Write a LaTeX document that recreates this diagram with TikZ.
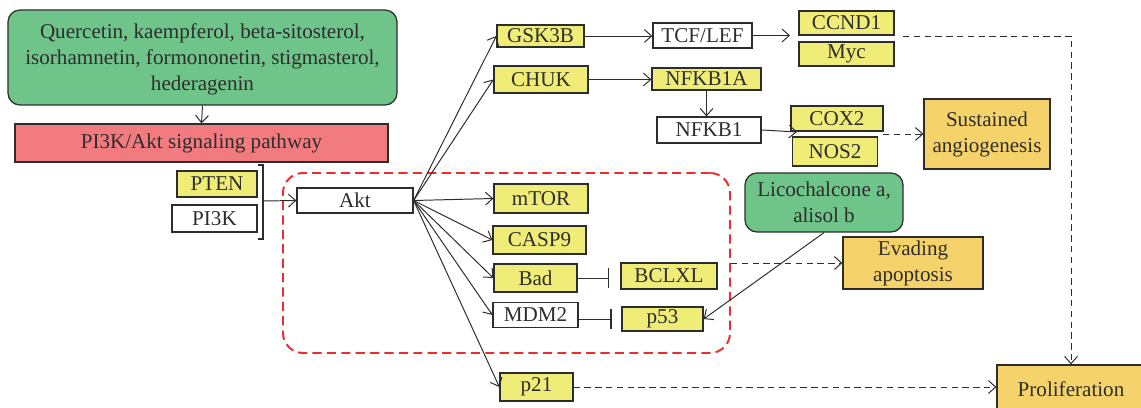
\documentclass[tikz,border=0pt]{standalone}
\usepackage{fontspec}
\setmainfont{Liberation Serif}
\usetikzlibrary{arrows.meta}
\definecolor{geneyellow}{RGB}{240,236,120}
\definecolor{herbgreen}{RGB}{111,196,138}
\definecolor{pathpink}{RGB}{241,123,126}
\definecolor{outorange}{RGB}{246,211,106}
\definecolor{boxred}{RGB}{236,45,45}
\definecolor{boxgray}{RGB}{45,45,45}
\begin{document}
\begin{tikzpicture}[
  font=\fontsize{15}{18.5}\selectfont,
  >={Straight Barb[length=1.8mm,width=3.2mm]},
  gene/.style={rectangle,draw=boxgray,line width=0.9pt,fill=geneyellow,inner sep=0pt,align=center,text=boxgray},
  plain/.style={gene,fill=white},
  herb/.style={gene,fill=herbgreen,rounded corners=3mm},
  outcome/.style={gene,fill=outorange},
  arr/.style={->,line width=0.7pt,draw=boxgray},
  dasharr/.style={arr,dash pattern=on 1.6mm off 1.1mm},
  inhib/.style={-{Bar[width=4.8mm,line width=0.9pt]},line width=0.7pt,draw=boxgray,shorten >=2.75mm}
]
\useasboundingbox (0,0) rectangle (28.525,-10.2);
\clip (0,0) rectangle (28.525,-10.2);
\node[herb,minimum width=9.725cm,minimum height=2.375cm,text depth=0pt] (drugs) at (5.0625,-1.4375) {Quercetin, kaempferol, beta-sitosterol,\\isorhamnetin, formononetin, stigmasterol,\\hederagenin};
\node[gene,fill=pathpink,minimum width=9.325cm,minimum height=0.95cm] (pathway) at (5.0375,-3.575) {PI3K/Akt signaling pathway};
\node[gene,minimum width=2.0cm,minimum height=0.65cm] (pten) at (5.425,-4.6) {PTEN};
\node[plain,minimum width=2.125cm,minimum height=0.675cm] (pik) at (5.3625,-5.4625) {PI3K};
\draw[line width=0.9pt,draw=boxgray] (6.45,-4.125) -- (6.575,-4.125) -- (6.575,-5.975) -- (6.45,-5.975);
\coordinate (brk) at (6.575,-5.025);
\node[rectangle,draw=boxred,line width=1.4pt,dash pattern=on 2.3mm off 1.3mm,rounded corners=5mm,minimum width=11.175cm,minimum height=4.5cm] (aktbox) at (12.6625,-6.575) {};
\node[plain,minimum width=2.9cm,minimum height=0.625cm] (akt) at (8.875,-5.0125) {Akt};
\node[gene,minimum width=2.175cm,minimum height=0.55cm] (gsk) at (13.5125,-0.9) {GSK3B};
\node[gene,minimum width=2.35cm,minimum height=0.675cm] (chuk) at (13.525,-1.9875) {CHUK};
\node[plain,minimum width=2.475cm,minimum height=0.625cm] (tcf) at (17.5625,-0.8875) {TCF/LEF};
\node[gene,minimum width=2.725cm,minimum height=0.55cm] (nfkbia) at (17.6625,-1.975) {NFKB1A};
\node[plain,minimum width=2.6cm,minimum height=0.65cm] (nfkb) at (17.725,-3.25) {NFKB1};
\node[gene,minimum width=2.375cm,minimum height=0.6cm] (ccnd) at (21.1625,-0.575) {CCND1};
\node[gene,minimum width=2.375cm,minimum height=0.6cm] (myc) at (21.1625,-1.35) {Myc};
\node[gene,minimum width=2.3cm,minimum height=0.625cm] (cox) at (20.925,-2.9625) {COX2};
\node[gene,minimum width=2.125cm,minimum height=0.725cm] (nos) at (20.875,-3.7875) {NOS2};
\node[outcome,minimum width=3.15cm,minimum height=1.75cm] (angio) at (24.675,-3.35) {Sustained\\angiogenesis};
\node[gene,minimum width=2.35cm,minimum height=0.725cm] (mtor) at (13.525,-4.9625) {mTOR};
\node[gene,minimum width=2.325cm,minimum height=0.7cm] (casp) at (13.4875,-6.0) {CASP9};
\node[gene,minimum width=2.075cm,minimum height=0.7cm] (bad) at (13.3875,-6.95) {Bad};
\node[gene,minimum width=2.4cm,minimum height=0.65cm] (bcl) at (16.725,-6.9) {BCLXL};
\node[plain,minimum width=2.125cm,minimum height=0.625cm] (mdm) at (13.3875,-7.875) {MDM2};
\node[gene,minimum width=2.025cm,minimum height=0.6cm] (pfs) at (16.5625,-7.975) {p53};
\node[herb,minimum width=3.95cm,minimum height=1.475cm] (lico) at (20.6,-5.0625) {Licochalcone a,\\alisol b};
\node[outcome,minimum width=3.5cm,minimum height=1.3cm] (evade) at (22.825,-6.575) {Evading\\apoptosis};
\node[gene,minimum width=1.825cm,minimum height=0.7cm] (ptw) at (13.4125,-9.675) {p21};
\node[outcome,minimum width=3.7cm,minimum height=1.2cm] (prolif) at (26.775,-9.725) {Proliferation};
\coordinate (cycin) at (19.75,-0.8875);
\coordinate (cycout) at (22.575,-0.9);
\coordinate (coxin) at (19.925,-3.3);
\coordinate (coxout) at (22.075,-3.35);
\draw[arr] (drugs.south) -- (pathway.north);
\draw[arr] (brk) -- (akt.west);
\foreach \t in {gsk,chuk,mtor,casp,bad,mdm,ptw}
  \draw[arr] (akt.east) -- (\t.west);
\draw[arr] (gsk.east) -- (gsk.east -| tcf.west);
\draw[arr] (tcf.east) -- (cycin);
\draw[arr] (chuk.east) -- (chuk.east -| nfkbia.west);
\draw[arr] (nfkbia.south) -- (nfkbia.south |- nfkb.north);
\draw[arr] (nfkb.east) -- (coxin);
\draw[inhib] (bad.east) -- (bad.east -| bcl.west);
\draw[inhib] ([yshift=-1mm]mdm.east) -- ++(1.1,0);
\draw[arr] (lico.south) -- (pfs.east);
\draw[dasharr] (coxout) -- (angio.west);
\draw[dasharr] (aktbox.east) -- (evade.west);
\draw[dasharr] (cycout) -| (prolif.north);
\draw[dasharr] (ptw.east) -- (ptw.east -| prolif.west);
\end{tikzpicture}
\end{document}
